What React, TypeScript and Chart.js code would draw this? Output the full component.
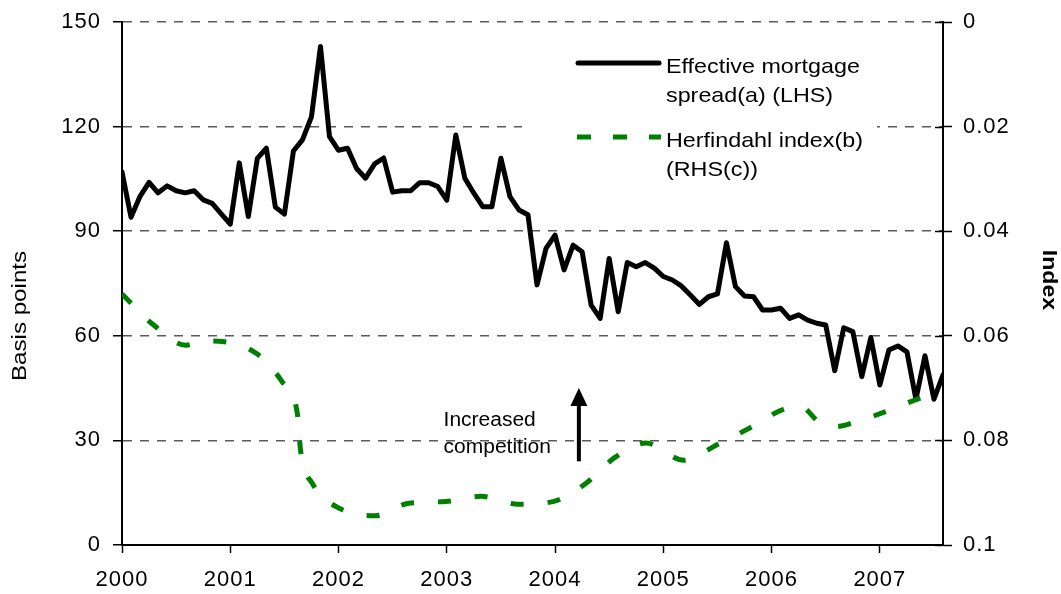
import React, { useEffect, useRef } from "react";
import { Chart, registerables } from "chart.js";

Chart.register(...registerables);

// ---------- DATA ----------
// Year tick labels on the x axis
const yearTicks = [2000, 2001, 2002, 2003, 2004, 2005, 2006, 2007];
const firstYear = 2000;
const monthsShown = 92; // Jan 2000 .. Aug 2007

// Effective mortgage spread (basis points, LHS), monthly from Jan 2000
const spreadValues = [
  107, 94, 100, 104, 101, 103, 101.6, 101, 101.6, 99, 98, 95,
  92, 109.6, 94.2, 110.9, 113.8, 96.9, 94.9, 113, 116.2, 122.8, 143, 117.1,
  113.2, 113.8, 108, 105.2, 109.3, 111, 101.2, 101.6, 101.6, 103.9, 103.9, 102.8,
  98.9, 117.6, 105.2, 100.9, 97, 97, 110.9, 99.9, 96.1, 94.7, 74.6, 85.1,
  88.9, 78.9, 86, 84.1, 68.8, 65, 82.2, 66.9, 81, 79.8, 81, 79.4,
  77, 76, 74.3, 71.7, 69, 71.2, 72, 86.7, 74.1, 71.4, 71.2, 67.4,
  67.4, 67.9, 65, 66, 64.5, 63.6, 63.1, 50, 62.3, 61.2, 48.3, 59.5,
  45.9, 55.9, 57.1, 55.4, 41.8, 54.3, 41.8, 48.8,
];

// Herfindahl index (RHS, inverted)
const herfDates = [
  2000.0, 2000.29, 2000.59, 2000.77, 2000.93, 2001.25, 2001.48, 2001.62, 2001.65,
  2001.76, 2002.02, 2002.34, 2002.65, 2002.99, 2003.32, 2003.66, 2003.98, 2004.28,
  2004.55, 2004.84, 2005.19, 2005.5, 2005.81, 2006.13, 2006.27, 2006.44, 2006.61,
  2006.74, 2007.08, 2007.39, 2007.5,
];
const herfValues = [
  0.052, 0.0579, 0.0618, 0.061, 0.0611, 0.0635, 0.0688, 0.0749, 0.082,
  0.0883, 0.0931, 0.0944, 0.092, 0.0917, 0.0907, 0.0922, 0.0917, 0.0883,
  0.0833, 0.0805, 0.0838, 0.0808, 0.0775, 0.0739, 0.0736, 0.0765, 0.0773,
  0.0767, 0.0743, 0.0718, 0.0713,
];

const leftTicks = [0, 30, 60, 90, 120, 150];
const rightTicks = [0, 0.02, 0.04, 0.06, 0.08, 0.1];

const leftTitle = "Basis points";
const rightTitle = "Index";
const spreadLabel = ["Effective mortgage", "spread(a) (LHS)"];
const herfLabel = ["Herfindahl index(b)", "(RHS(c))"];
const annotationLines = ["Increased", "competition"];
const annotationArrow = { year: 2004.22, fromBp: 24, toBp: 45 };
const annotationText = { year: 2002.97, baselinesBp: [34.1, 26.4] };

// ---------- STYLE ----------
const FONT = "'Liberation Sans', Arial, Helvetica, sans-serif";
const GREEN = "#008000";

function stretchedText(
  ctx: CanvasRenderingContext2D,
  text: string,
  x: number,
  y: number,
  sx: number,
  rot = 0
) {
  ctx.save();
  ctx.translate(x, y);
  if (rot) ctx.rotate(rot);
  ctx.scale(sx, 1);
  ctx.fillText(text, 0, 0);
  ctx.restore();
}

const overlayPlugin = {
  id: "overlay",
  beforeDraw(chart: any) {
    (chart.ctx as any).letterSpacing = "1px";
  },
  beforeDatasetsDraw(chart: any) {
    const ctx = chart.ctx;
    ctx.save();
    ctx.fillStyle = "#ffffff";
    ctx.fillRect(522, 36, 355, 160);
    ctx.restore();
  },
  afterDraw(chart: any) {
    const { ctx, scales, chartArea } = chart;
    (ctx as any).letterSpacing = "0px";
    ctx.save();
    // inner halves of right axis ticks
    const y1 = scales.y1;
    ctx.strokeStyle = "#000";
    ctx.lineWidth = 1.5;
    y1.ticks.forEach((t: any) => {
      const py = Math.round(y1.getPixelForValue(t.value)) + 0.5;
      ctx.beginPath();
      ctx.moveTo(chartArea.right - 8, py);
      ctx.lineTo(chartArea.right, py);
      ctx.stroke();
    });

    ctx.fillStyle = "#000";
    // axis titles
    ctx.textAlign = "center";
    ctx.textBaseline = "middle";
    ctx.font = `21px ${FONT}`;
    stretchedText(ctx, leftTitle, 20, 316, 1.15, -Math.PI / 2);
    ctx.font = `bold 21px ${FONT}`;
    stretchedText(ctx, rightTitle, 1049, 280, 1.1, Math.PI / 2);

    // legend
    ctx.font = `21px ${FONT}`;
    ctx.textAlign = "left";
    ctx.textBaseline = "alphabetic";
    ctx.lineCap = "round";
    ctx.lineWidth = 5;
    ctx.strokeStyle = "#000";
    ctx.beginPath();
    ctx.moveTo(578, 63);
    ctx.lineTo(659, 63);
    ctx.stroke();
    stretchedText(ctx, spreadLabel[0], 666, 73, 1.11);
    stretchedText(ctx, spreadLabel[1], 666, 102, 1.11);

    ctx.lineCap = "butt";
    ctx.strokeStyle = GREEN;
    ctx.setLineDash([14, 22]);
    ctx.beginPath();
    ctx.moveTo(577, 137);
    ctx.lineTo(661, 137);
    ctx.stroke();
    ctx.setLineDash([]);
    stretchedText(ctx, herfLabel[0], 666, 147, 1.11);
    stretchedText(ctx, herfLabel[1], 666, 176, 1.11);

    // annotation text
    const xs = scales.x;
    const ys = scales.y;
    ctx.font = `20px ${FONT}`;
    const tx = xs.getPixelForValue(annotationText.year);
    annotationLines.forEach((line, i) => {
      stretchedText(ctx, line, tx, ys.getPixelForValue(annotationText.baselinesBp[i]), 1.05);
    });

    // arrow
    const ax = xs.getPixelForValue(annotationArrow.year);
    const ay0 = ys.getPixelForValue(annotationArrow.fromBp);
    const ay1 = ys.getPixelForValue(annotationArrow.toBp);
    ctx.strokeStyle = "#000";
    ctx.lineWidth = 4;
    ctx.beginPath();
    ctx.moveTo(ax, ay0);
    ctx.lineTo(ax, ay1 + 14);
    ctx.stroke();
    ctx.beginPath();
    ctx.moveTo(ax, ay1);
    ctx.lineTo(ax - 8.5, ay1 + 18);
    ctx.lineTo(ax + 8.5, ay1 + 18);
    ctx.closePath();
    ctx.fill();
    ctx.restore();
  },
};

export default function App() {
  const ref = useRef<HTMLCanvasElement | null>(null);

  useEffect(() => {
    document.body.style.margin = "0";
    const canvas = ref.current;
    if (!canvas) return;
    Chart.defaults.font.family = FONT;
    Chart.defaults.color = "#000";

    const spreadPoints = spreadValues.map((v, i) => ({ x: firstYear + i / 12, y: v }));
    const herfPoints = herfDates.map((d, i) => ({ x: d, y: herfValues[i] }));
    const xTickFont = { family: FONT, size: 22 };
    const yTickFont = { family: FONT, size: 22, lineHeight: 0.8 };

    const chart = new Chart(canvas, {
      type: "line",
      data: {
        datasets: [
          {
            label: "Effective mortgage spread(a) (LHS)",
            data: spreadPoints,
            yAxisID: "y",
            borderColor: "#000",
            backgroundColor: "#000",
            borderWidth: 5,
            pointRadius: 0,
            tension: 0,
            borderJoinStyle: "round",
            borderCapStyle: "round",
            order: 2,
          },
          {
            label: "Herfindahl index(b) (RHS(c))",
            data: herfPoints,
            yAxisID: "y1",
            borderColor: GREEN,
            backgroundColor: GREEN,
            borderWidth: 5,
            borderDash: [13, 24],
            pointRadius: 0,
            cubicInterpolationMode: "monotone",
            order: 1,
          },
        ],
      },
      options: {
        animation: false,
        responsive: false,
        maintainAspectRatio: false,
        layout: { padding: { top: 22, left: 0, right: 0, bottom: 0 } },
        plugins: {
          legend: { display: false },
          title: { display: false },
          tooltip: { enabled: false },
        },
        scales: {
          x: {
            type: "linear",
            min: firstYear,
            max: firstYear + (monthsShown - 1) / 12,
            afterBuildTicks: (s: any) => {
              s.ticks = yearTicks.map((v) => ({ value: v }));
            },
            afterFit: (s: any) => {
              s.height = 49;
            },
            ticks: {
              includeBounds: false,
              autoSkip: false,
              maxRotation: 0,
              padding: 14,
              font: xTickFont,
              color: "#000",
              callback: (v: any) => String(v),
            },
            grid: {
              drawOnChartArea: false,
              drawTicks: true,
              tickLength: 8,
              tickColor: "#000",
              tickWidth: 1.5,
              tickBorderDash: [],
            },
            border: { color: "#000", width: 2 },
          },
          y: {
            position: "left",
            min: 0,
            max: 150,
            afterBuildTicks: (s: any) => {
              s.ticks = leftTicks.map((v) => ({ value: v }));
            },
            afterFit: (s: any) => {
              s.width = 122;
            },
            ticks: { padding: 12, font: yTickFont, color: "#000" },
            grid: {
              color: "#5a5a5a",
              lineWidth: 1.5,
              tickLength: 9,
              tickColor: "#000",
              tickWidth: 1.5,
              tickBorderDash: [],
            },
            border: { color: "#000", width: 2, dash: [9, 8] },
          },
          y1: {
            position: "right",
            min: 0,
            max: 0.1,
            reverse: true,
            afterBuildTicks: (s: any) => {
              s.ticks = rightTicks.map((v) => ({ value: v }));
            },
            afterFit: (s: any) => {
              s.width = 118;
            },
            ticks: {
              padding: 11,
              font: yTickFont,
              color: "#000",
              callback: (v: any) => String(Math.round(v * 100) / 100),
            },
            grid: {
              drawOnChartArea: false,
              tickLength: 9,
              tickColor: "#000",
              tickWidth: 1.5,
              tickBorderDash: [],
            },
            border: { color: "#000", width: 2 },
          },
        },
      },
      plugins: [overlayPlugin],
    } as any);

    return () => chart.destroy();
  }, []);

  return (
    <div style={{ width: 1061, height: 594, position: "relative" }}>
      <canvas ref={ref} width={1061} height={594} style={{ display: "block", width: 1061, height: 594 }} />
    </div>
  );
}
